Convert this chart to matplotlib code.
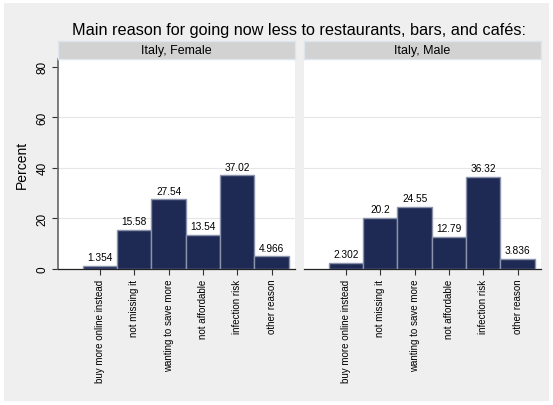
import matplotlib
matplotlib.use("Agg")
import matplotlib.pyplot as plt
import matplotlib.patches as patches
import numpy as np

plt.rcParams['font.family'] = ['Liberation Sans', 'DejaVu Sans']

# data
categories = ["buy more online instead", "not missing it", "wanting to save more",
              "not affordable", "infection risk", "other reason"]
panels = ["Italy, Female", "Italy, Male"]
female = [1.354, 15.58, 27.54, 13.54, 37.02, 4.966]
male = [2.302, 20.2, 24.55, 12.79, 36.32, 3.836]
value_labels_f = ["1.354", "15.58", "27.54", "13.54", "37.02", "4.966"]
value_labels_m = ["2.302", "20.2", "24.55", "12.79", "36.32", "3.836"]
yticks = [0, 20, 40, 60, 80]

W, H = 553, 406
bar_color = "#1f2a54"
edge_color = "#8a93ab"

fig = plt.figure(figsize=(W / 100, H / 100), dpi=100)
fig.patch.set_facecolor("white")
fig.add_artist(patches.Rectangle((4 / W, 4 / H), 545 / W, 398 / H, transform=fig.transFigure,
                                 facecolor="#efefef", edgecolor="none", zorder=-10))

def px_axes(x0, y0, x1, y1):
    return fig.add_axes([x0 / W, (H - y1) / H, (x1 - x0) / W, (y1 - y0) / H])

fig.text(299.5 / W, (H - 31) / H, "Main reason for going now less to restaurants, bars, and cafés:",
         ha="center", va="center", fontsize=11.7)

x = np.arange(1, len(categories) + 1)
lefts = [58, 304]
for k, (name, vals, labs) in enumerate(zip(panels, [female, male], [value_labels_f, value_labels_m])):
    x0 = lefts[k]
    x1 = x0 + 237
    ax = px_axes(x0, 60, x1, 270)
    ax.set_facecolor("white")
    ax.bar(x, vals, width=1.0, color=bar_color, edgecolor=edge_color, linewidth=1.0, zorder=3)
    for xi, v, t in zip(x, vals, labs):
        ax.text(xi, v + 1.5, t, ha="center", va="bottom", fontsize=7.3, zorder=4)
    ax.set_xlim(-0.22, 6.68)
    ax.set_ylim(0, 83)
    for g in [20, 40, 60]:
        ax.axhline(g, color="#e6e6e6", linewidth=0.8, zorder=1)
    ax.set_xticks(x)
    ax.set_xticklabels(categories, rotation=90, fontsize=7, va="top")
    ax.tick_params(axis="x", length=4, width=0.8, color="#333333", pad=3)
    for s in ["top", "right"]:
        ax.spines[s].set_visible(False)
    ax.spines["bottom"].set_color("#222222")
    ax.spines["bottom"].set_linewidth(0.9)
    if k == 0:
        ax.set_yticks(yticks)
        ax.set_yticklabels([str(t) for t in yticks], rotation=90, va="center", fontsize=8.5)
        ax.tick_params(axis="y", length=4, width=0.8, color="#333333", pad=3)
        ax.spines["left"].set_color("#666666")
        ax.spines["left"].set_linewidth(1.2)
        ax.set_ylabel("Percent", fontsize=10, labelpad=5)
    else:
        ax.set_yticks([])
        ax.spines["left"].set_visible(False)

    # strip
    sax = px_axes(x0, 42, x1, 60)
    sax.set_facecolor("#d2d2d2")
    sax.set_xticks([])
    sax.set_yticks([])
    for s in sax.spines.values():
        s.set_color("#dde6ee")
        s.set_linewidth(1.0)
    sax.text(0.5, 0.5, name, ha="center", va="center", fontsize=9, transform=sax.transAxes)

fig.savefig("out.png", dpi=100)
